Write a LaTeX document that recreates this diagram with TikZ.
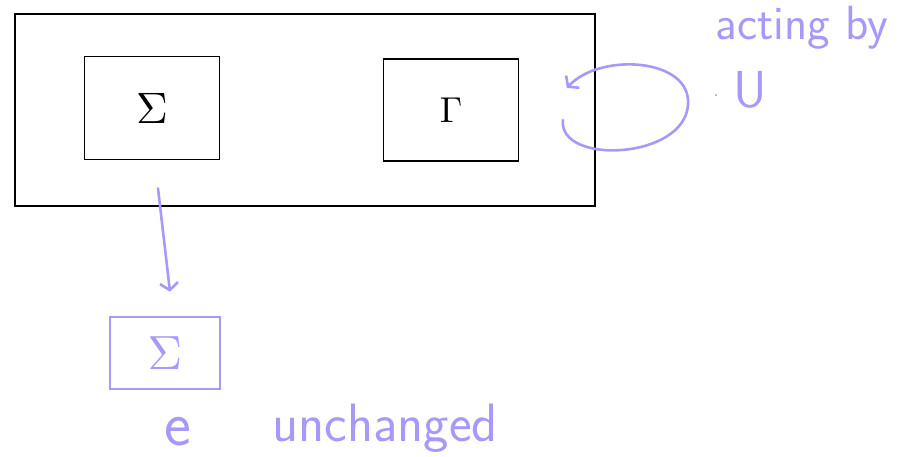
\documentclass[tikz,border=0pt]{standalone}
\usepackage{graphicx}
\usepackage{tikz}
\usetikzlibrary{arrows.meta,calc,positioning}
\definecolor{sketchpurple}{RGB}{168,152,250}
\newcommand{\handtxt}{\fontsize{54}{58}\selectfont\sffamily}

\begin{document}
\begin{tikzpicture}[x=1pt,y=-1pt,
  box/.style={draw,line width=1.8pt,inner sep=0pt},
  pbox/.style={draw=sketchpurple,line width=2.6pt,inner sep=0pt,text=sketchpurple},
  note/.style={text=sketchpurple,font=\handtxt,inner sep=0pt}]
  \useasboundingbox (0,0) rectangle (911,457);
  % the group and its two parts
  \node[box,minimum width=580pt,minimum height=192pt] (outer) at (305,110) {};
  \node[box,minimum width=135pt,minimum height=103pt] (sig) at (152,108) {\scalebox{4.4}{$\Sigma$}};
  \node[box,minimum width=135pt,minimum height=102pt] (gam) at (451,110) {\scalebox{3.6}{$\Gamma$}};
  % the copy that stays put
  \node[pbox,minimum width=110pt,minimum height=72pt] (sigcopy) at (165,353) {\scalebox{4.8}{$\Sigma$}};
  \node[note,font=\fontsize{64}{64}\selectfont\sffamily] (e) at (178,432) {e};
  \node[note] (unch) at (385,428) {unchanged};
  \node[note,font=\fontsize{48}{52}\selectfont\sffamily] (act) at (802,28) {acting by};
  \node[note,font=\fontsize{52}{52}\selectfont\sffamily] (uu) at (750,90) {U};
  \coordinate (dot) at (716,95);
  \fill[sketchpurple] (dot) circle (1.2);
  % arrows
  \draw[sketchpurple,line width=2.6pt,line cap=round,-{Straight Barb[length=7pt,width=18pt]}]
    ([xshift=6pt,yshift=-28pt]sig.south) -- ([xshift=5pt,yshift=24pt]sigcopy.north);
  \coordinate (loopin) at ([xshift=-33pt,yshift=-10pt]outer.east);
  \coordinate (loopout) at ([xshift=-29pt,yshift=22pt]outer.east);
  \draw[sketchpurple,line width=2.6pt,line cap=round,-{Straight Barb[length=7pt,width=18pt]}]
    (loopin) .. controls (558,165) and (684,160) .. (688,105)
    .. controls (692,58) and (600,52) .. (loopout);
\end{tikzpicture}
\end{document}
